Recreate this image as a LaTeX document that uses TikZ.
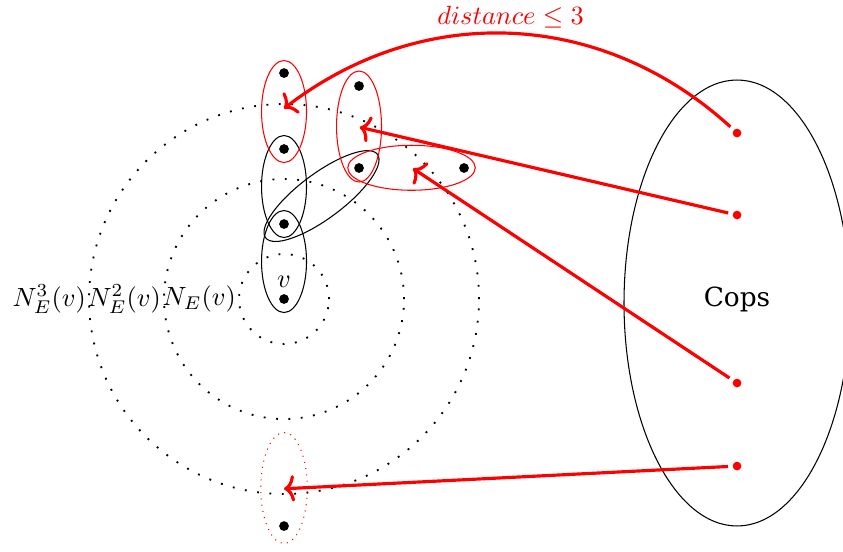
\documentclass[tikz,border=0pt]{standalone}
\usepackage{fontspec}
\setmainfont{DejaVu Serif}
\usetikzlibrary{arrows.meta,positioning}
\begin{document}
\begin{tikzpicture}[
  dot/.style={circle,fill=black,inner sep=0pt,minimum size=3.7pt},
  copdot/.style={circle,fill=red,inner sep=0pt,minimum size=3.3pt,outer sep=1.8pt},
  ring/.style={draw,loosely dotted,line width=0.7pt},
  grp/.style={draw,thin},
  rgrp/.style={draw=red,thin},
  chase/.style={draw=red,line width=1.2pt,-{To[length=4pt,width=10pt]}},
  lab/.style={anchor=east,inner sep=1pt}
]
\useasboundingbox (-3.787,-3.36) rectangle (7.453,3.987);
% rings
\draw[ring] (0,0) circle (0.6);
\draw[ring] (0,0) circle (1.6);
\draw[ring] (0,0) circle (2.6);
\node[lab] (l1) at (-0.6,0) {$N_E(v)$};
\node[lab] (l2) at (-1.6,0) {$N^2_E(v)$};
\node[lab] (l3) at (-2.6,0) {$N^3_E(v)$};
% vertices
\node[dot] (v) at (0,0) {};
\node[inner sep=1pt,above=1pt of v] (vl) {$v$};
\node[dot] (a1) at (0,1) {};
\node[dot] (a2) at (0,2) {};
\node[dot] (a3) at (0,3.013) {};
\node[dot] (b1) at (1,1.747) {};
\node[dot] (b2) at (1,2.84) {};
\node[dot] (b3) at (2.4,1.747) {};
\node[dot] (c1) at (0,-3.027) {};
% groups
\draw[grp] (0,0.5) ellipse (0.3 and 0.68);
\draw[grp] (0,1.5) ellipse (0.3 and 0.68);
\draw[grp,rotate around={36.7:(0.5,1.373)}] (0.5,1.373) ellipse (0.93 and 0.3);
\draw[rgrp] (0,2.5) ellipse (0.3 and 0.68);
\draw[rgrp] (1,2.3) ellipse (0.3 and 0.74);
\draw[rgrp] (1.7,1.75) ellipse (0.85 and 0.3);
\draw[red,dotted,thin] (0,-2.52) ellipse (0.31 and 0.74);
\coordinate (t1) at (0,2.54);
\coordinate (t2) at (1.01,2.29);
\coordinate (t3) at (1.72,1.74);
\coordinate (t4) at (0,-2.53);
% cops
\draw[thin] (6.04,-0.053) ellipse (1.507 and 2.973);
\node (cops) at (6.04,0) {Cops};
\node[copdot] (k1) at (6.04,2.213) {};
\node[copdot] (k2) at (6.04,1.12) {};
\node[copdot] (k3) at (6.04,-1.12) {};
\node[copdot] (k4) at (6.04,-2.227) {};
% arrows
\draw[chase] (k1) to[bend right=40] node[above,text=red,inner sep=1.5pt] {$distance\leq 3$} (t1);
\draw[chase] (k2) -- (t2);
\draw[chase] (k3) -- (t3);
\draw[chase] (k4) -- (t4);
\end{tikzpicture}
\end{document}
